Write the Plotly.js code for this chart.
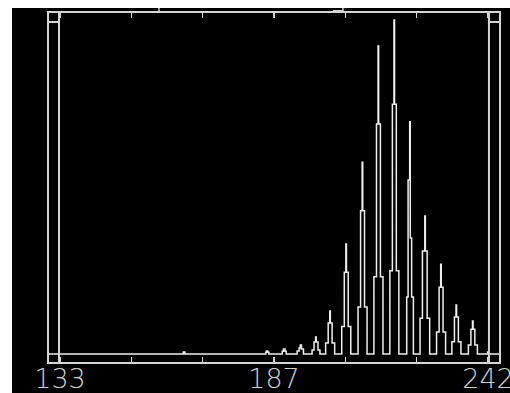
<!DOCTYPE html>
<html>
<head>
<meta charset="utf-8">
<script src="https://cdn.plot.ly/plotly-3.0.1.min.js"></script>
<style>html,body{margin:0;padding:0;background:#fff;}#chart{width:510px;height:393px;}</style>
</head>
<body>
<div id="chart"></div>
<script>
// m/z values of the profile trace (step profile)
var mz = [
  130.2,
  164.4, 164.8,
  185.4, 185.6, 185.9, 186.2,
  189.6, 189.9, 190.3, 190.6,
  193.4, 193.9, 194.2, 194.5, 195.0,
  197.2, 197.7, 198.1, 198.25, 198.7, 199.2,
  200.65, 201.3, 201.7, 201.85, 202.3, 202.95,
  204.75, 205.4, 205.8, 205.95, 206.4, 207.05,
  208.9, 209.55, 209.95, 210.1, 210.55, 211.2,
  212.95, 213.6, 214.0, 214.15, 214.6, 215.25,
  217.0, 217.65, 218.05, 218.2, 218.65, 219.3,
  221.3, 221.65, 222.05, 222.2, 222.55, 223.0,
  224.7, 225.3, 225.9, 226.05, 226.5, 227.15,
  228.9, 229.55, 229.95, 230.1, 230.55, 231.2,
  232.8, 233.45, 233.85, 234.0, 234.45, 235.1,
  237.0, 237.65, 238.05, 238.2, 238.65, 239.3,
  241.9, 242.2,
  244.8
];
// relative intensity (%) at each m/z point
var intensity = [
  0,
  0.6, 0,
  0.5, 0.9, 0.5, 0,
  0.8, 1.5, 0.8, 0,
  0.9, 1.8, 2.7, 1.5, 0,
  1.2, 3.6, 5.1, 3.6, 1.2, 0,
  3.3, 9.3, 12.9, 9.3, 3.3, 0,
  8.2, 24.5, 32.9, 24.5, 8.2, 0,
  14.1, 42.9, 57.4, 42.9, 14.1, 0,
  23.1, 68.9, 92.2, 68.9, 23.1, 0,
  24.9, 74.8, 100, 74.8, 24.9, 0,
  17.1, 52.1, 69.5, 34.7, 17.1, 0,
  10.7, 30.8, 41.3, 30.8, 10.7, 0,
  6.6, 20.0, 26.9, 20.0, 6.6, 0,
  3.7, 11.1, 14.7, 11.1, 3.7, 0,
  2.7, 7.4, 9.9, 7.4, 2.7, 0,
  0.6, 0,
  0
];
// axis ticks
var tickValues = [133, 151.17, 169.33, 187.5, 205.67, 223.83, 242];
var tickLabels = ['133', '', '', '187', '', '', '242'];

var frameColor = '#d4d4d4';
var traceColor = '#eeeeee';

var trace = {
  x: mz, y: intensity, type: 'scatter', mode: 'lines',
  line: {shape: 'hv', color: traceColor, width: 1.5},
  hoverinfo: 'skip', showlegend: false
};

var layout = {
  width: 510, height: 393,
  margin: {l: 49, r: 11, t: 13, b: 31, pad: 0},
  paper_bgcolor: '#000000', plot_bgcolor: '#000000',
  showlegend: false,
  xaxis: {
    range: [130.2, 244.8], showgrid: false, zeroline: false,
    showline: true, linecolor: frameColor, linewidth: 2, mirror: 'ticks',
    ticks: 'inside', ticklen: 5, tickwidth: 1.5, tickcolor: frameColor,
    tickmode: 'array', tickvals: tickValues, ticktext: tickLabels,
    tickfont: {family: 'DejaVu Sans', size: 27, color: '#cfcfcf', weight: 200},
    ticklabelstandoff: -8, ticklabeloverflow: 'allow',
    automargin: false,
    fixedrange: true
  },
  yaxis: {
    range: [-2.4, 102.1], showgrid: false, zeroline: false,
    showline: true, linecolor: frameColor, linewidth: 2, mirror: true,
    showticklabels: false, ticks: '', fixedrange: true
  },
  shapes: [
    // white margins of the photo
    {type: 'rect', xref: 'paper', yref: 'paper', x0: -0.12, x1: -0.0822, y0: -0.1, y1: 1.05,
     fillcolor: '#ffffff', line: {width: 0}, layer: 'above'},
    {type: 'rect', xref: 'paper', yref: 'paper', x0: -0.12, x1: 1.05, y0: 1.0143, y1: 1.05,
     fillcolor: '#ffffff', line: {width: 0}, layer: 'above'},
    // inner frame verticals
    {type: 'line', xref: 'x', yref: 'paper', x0: 132.75, x1: 132.75, y0: 0, y1: 1,
     line: {color: frameColor, width: 2}},
    {type: 'line', xref: 'x', yref: 'paper', x0: 242.24, x1: 242.24, y0: 0, y1: 1,
     line: {color: frameColor, width: 2}},
    // top corner boxes
    {type: 'line', xref: 'paper', yref: 'y', x0: 0, x1: 0.0222, y0: 99.4, y1: 99.4,
     line: {color: frameColor, width: 2}},
    {type: 'line', xref: 'paper', yref: 'y', x0: 0.9778, x1: 1, y0: 99.4, y1: 99.4,
     line: {color: frameColor, width: 2}},
    // small marks above the top axis
    {type: 'line', xref: 'x', yref: 'paper', x0: 158.2, x1: 158.2, y0: 1, y1: 1.0143,
     line: {color: frameColor, width: 1.5}},
    {type: 'line', xref: 'x', yref: 'paper', x0: 205.07, x1: 205.07, y0: 1, y1: 1.0143,
     line: {color: frameColor, width: 1.5}},
    {type: 'line', xref: 'x', yref: 'paper', x0: 202.5, x1: 205.07, y0: 1.0066, y1: 1.0066,
     line: {color: frameColor, width: 1.5}}
  ]
};

Plotly.newPlot('chart', [trace], layout, {staticPlot: true, displayModeBar: false});
</script>
</body>
</html>
